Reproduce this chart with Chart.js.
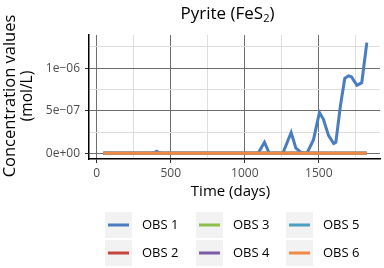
<!DOCTYPE html>
<html><head><meta charset="utf-8">
<script src="https://cdn.jsdelivr.net/npm/chart.js@4/dist/chart.umd.min.js"></script>
<style>html,body{margin:0;padding:0;background:#fff}#wrap{width:384px;height:268px}</style>
</head><body><div id="wrap"><canvas id="c" width="384" height="268"></canvas></div>
<script>
const seriesNames = ['OBS 1','OBS 2','OBS 3','OBS 4','OBS 5','OBS 6'];
const seriesColors = ['#4a7dc0','#c8443f','#8cbf4b','#7b5ba6','#4b9fc0','#ee8a44'];
const days = [45,100,200,300,370,390,405,420,440,500,600,700,800,900,1000,1090,1133,1165,1200,1257,1313,1345,1380,1419,1464,1504,1531,1565,1600,1615,1645,1675,1700,1720,1757,1790,1824];
const obs1 = [0,0,0,0,0,0.1e-7,0.25e-7,0.1e-7,0,0,0,0,0,0,0,0,1.3e-7,0,0,0,2.45e-7,0.6e-7,0.1e-7,0,1.6e-7,4.8e-7,4.0e-7,2.1e-7,1.15e-7,1.3e-7,5.5e-7,8.8e-7,9.1e-7,9.0e-7,8.0e-7,8.3e-7,13.0e-7];
const obs2 = [0,0,0,0,0,0,0,0,0,0,0,0,0,0,0,0,0,0,0,0,0,0,0,0,0,0,0,0,0,0,0,0,0,0,0,0,0];
const obs3 = [0,0,0,0,0,0,0,0,0,0,0,0,0,0,0,0,0,0,0,0,0,0,0,0,0,0,0,0,0,0,0,0,0,0,0,0,0];
const obs4 = [0,0,0,0,0,0,0,0,0,0,0,0,0,0,0,0,0,0,0,0,0,0,0,0,0,0,0,0,0,0,0,0,0,0,0,0,0];
const obs5 = [0,0,0,0,0,0,0,0,0,0,0,0,0,0,0,0,0,0,0,0,0,0,0,0,0,0,0,0,0,0,0,0,0,0,0,0,0];
const obs6 = [0,0,0,0,0,0,0,0,0,0,0,0,0,0,0,0,0,0,0,0,0,0,0,0,0,0,0,0,0,0,0,0,0,0,0,0,0];
const xTicks = [0,250,500,750,1000,1250,1500,1750];
const xTickLabels = ['0','','500','','1000','','1500',''];
const yTicks = [0,2.5e-7,5e-7,7.5e-7,1e-6,1.25e-6];
const yTickLabels = ['0e+00','','5e\u221207','','1e\u221206',''];
const titleMain = 'Pyrite (FeS';
const titleSub = '2';
const titleEnd = ')';
const xTitle = 'Time (days)';
const yTitle = ['Concentration values','(mol/L)'];

const allSeries = [obs1,obs2,obs3,obs4,obs5,obs6];
const FONT = '"Open Sans", sans-serif';

const datasets = allSeries.map((s,i)=>({
  label: seriesNames[i],
  data: days.map((d,j)=>({x:d,y:s[j]})),
  borderColor: seriesColors[i],
  backgroundColor: seriesColors[i],
  borderWidth: 3,
  pointRadius: 0,
  tension: 0,
  order: 6-i
}));

const decor = {
  id:'decor',
  afterDraw(chart){
    const ctx = chart.ctx;
    ctx.save();
    // title
    ctx.fillStyle = '#000';
    ctx.textBaseline = 'alphabetic';
    ctx.font = '17px ' + FONT;
    const w1 = ctx.measureText(titleMain).width;
    ctx.font = '11px ' + FONT;
    const w2 = ctx.measureText(titleSub).width;
    ctx.font = '17px ' + FONT;
    const w3 = ctx.measureText(titleEnd).width;
    const tw = w1+w2+w3;
    let tx = 227.5 - tw/2;
    const ty = 19;
    ctx.textAlign = 'left';
    ctx.fillText(titleMain, tx, ty);
    ctx.font = '11px ' + FONT;
    ctx.fillText(titleSub, tx+w1, ty+3);
    ctx.font = '17px ' + FONT;
    ctx.fillText(titleEnd, tx+w1+w2, ty);
    // x title
    const ca = chart.chartArea;
    ctx.font = '15px ' + FONT;
    ctx.textAlign = 'center';
    ctx.textBaseline = 'middle';
    ctx.fillStyle = '#000';
    ctx.fillText(xTitle, 230.5, 192);
    // y title
    ctx.save();
    ctx.translate(10, 96);
    ctx.rotate(-Math.PI/2);
    ctx.font = '16.5px ' + FONT;
    ctx.fillText(yTitle[0], 0, 0);
    ctx.font = '15.5px ' + FONT;
    ctx.fillText(yTitle[1], 0, 18);
    ctx.restore();
    // legend
    const colX = [105,196,286];
    const rowY = [212,240];
    ctx.font = '13px ' + FONT;
    ctx.textAlign = 'left';
    for(let i=0;i<seriesNames.length;i++){
      const c = Math.floor(i/2), r = i%2;
      const bx = colX[c], by = rowY[r];
      ctx.fillStyle = '#f2f2f2';
      ctx.fillRect(bx, by, 27, 26);
      ctx.strokeStyle = seriesColors[i];
      ctx.lineWidth = 3;
      ctx.beginPath();
      ctx.moveTo(bx+3, by+13);
      ctx.lineTo(bx+24, by+13);
      ctx.stroke();
      ctx.fillStyle = '#000';
      ctx.fillText(seriesNames[i], bx+37, by+13);
    }
    ctx.restore();
  }
};

const majorGrid = '#6e6e6e', minorGrid = '#dedede';
new Chart(document.getElementById('c'), {
  type:'line',
  data:{datasets},
  options:{
    responsive:false,
    animation:false,
    events:[],
    layout:{padding:{top:35,right:4,bottom:87,left:0}},
    plugins:{legend:{display:false},tooltip:{enabled:false},title:{display:false}},
    scales:{
      x:{
        type:'linear', min:-52, max:1913,
        afterBuildTicks(s){ s.ticks = xTicks.map(v=>({value:v})); },
        afterFit(s){ s.height = 22; },
        border:{display:true,color:'#000',width:1.5},
        grid:{
          color:(c)=> (c.tick && xTickLabels[xTicks.indexOf(c.tick.value)]!=='') ? majorGrid : minorGrid,
          tickColor:(c)=> (c.tick && xTickLabels[xTicks.indexOf(c.tick.value)]!=='') ? '#333' : 'rgba(0,0,0,0)',
          tickLength:4, lineWidth:1, drawTicks:true
        },
        ticks:{
          autoSkip:false, maxRotation:0, padding:3,
          color:'#4d4d4d', font:{family:FONT,size:12},
          callback:(v)=>{ const k=xTicks.indexOf(v); return k>=0?xTickLabels[k]:''; }
        }
      },
      y:{
        type:'linear', min:-6.7e-8, max:1.39e-6,
        afterBuildTicks(s){ s.ticks = yTicks.map(v=>({value:v})); },
        afterFit(s){ s.width = 89; },
        border:{display:true,color:'#000',width:1.5},
        grid:{
          color:(c)=> (c.tick && yTickLabels[yTicks.indexOf(c.tick.value)]!=='') ? majorGrid : minorGrid,
          tickColor:(c)=> (c.tick && yTickLabels[yTicks.indexOf(c.tick.value)]!=='') ? '#333' : 'rgba(0,0,0,0)',
          tickLength:4, lineWidth:1, drawTicks:true
        },
        ticks:{
          autoSkip:false, padding:5,
          color:'#4d4d4d', font:{family:FONT,size:12},
          callback:(v)=>{ const k=yTicks.indexOf(v); return k>=0?yTickLabels[k]:''; }
        }
      }
    }
  },
  plugins:[decor]
});
</script></body></html>
